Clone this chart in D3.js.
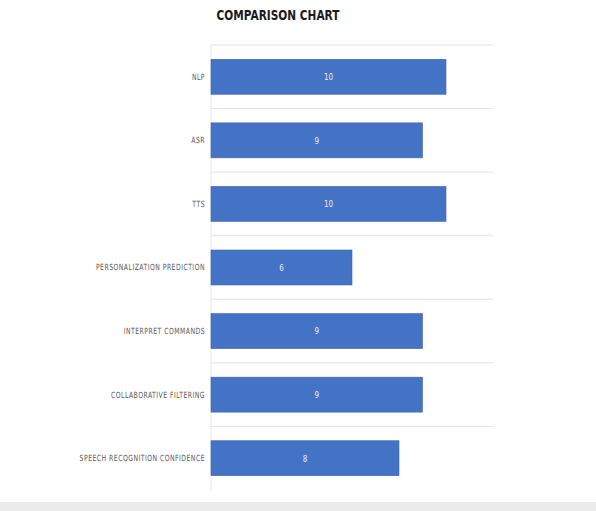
<!DOCTYPE html>
<html>
<head>
<meta charset="utf-8">
<script src="https://cdn.jsdelivr.net/npm/d3@7"></script>
<style>
  body { margin: 0; background: #fff; }
</style>
</head>
<body>
<svg id="chart"></svg>
<script>
const categories = ["NLP", "ASR", "TTS", "PERSONALIZATION PREDICTION", "INTERPRET COMMANDS", "COLLABORATIVE FILTERING", "SPEECH RECOGNITION CONFIDENCE"]
const values = [10, 9, 10, 6, 9, 9, 8]
const xDomain = [0, 12]

const width = 596
const height = 511
const mLeft = 211, mRight = 493, mTop = 45, mBottom = 490
const font = "'DejaVu Sans Condensed', 'DejaVu Sans', sans-serif"

var chart = d3.select("#chart")
    .attr("width", width)
    .attr("height", height)
    ;

// grey strip at the bottom of the screenshot
chart.append("rect")
    .attr("x", 0)
    .attr("y", 502)
    .attr("width", width)
    .attr("height", height - 502)
    .attr("fill", "#ececec");

const x = d3.scaleLinear()
    .domain(xDomain)
    .range([mLeft, mRight]);

const y = d3.scaleBand()
    .domain(categories)
    .range([mTop, mBottom])
    .paddingInner(0.45)
    .paddingOuter(0.225);

// separators between the categories
const step = y.step()
const seps = d3.range(categories.length).map(i => mTop + i * step)
chart.selectAll(".sep")
    .data(seps)
    .join("line")
    .attr("class", "sep")
    .attr("x1", mLeft)
    .attr("x2", mRight)
    .attr("y1", d => d)
    .attr("y2", d => d)
    .attr("stroke", "#e3e3e3")
    .attr("stroke-width", 1);

// vertical axis line
chart.append("line")
    .attr("x1", mLeft)
    .attr("x2", mLeft)
    .attr("y1", mTop)
    .attr("y2", mBottom)
    .attr("stroke", "#e6e6e6");

chart.selectAll(".bar")
    .data(values)
    .join("rect")
    .attr("class", "bar")
    .attr("x", x(0))
    .attr("y", (d, i) => y(categories[i]))
    .attr("width", d => x(d) - x(0))
    .attr("height", y.bandwidth())
    .attr("fill", "#4472c4")
    .attr("stroke", "#3d66b0")
    .attr("stroke-width", 0.6);

chart.selectAll(".val")
    .data(values)
    .join("text")
    .attr("class", "val")
    .attr("transform", (d, i) => "translate(" + (x(0) + x(d)) / 2 + "," + (y(categories[i]) + y.bandwidth() / 2) + ") scale(0.85,1)")
    .attr("dy", "0.35em")
    .style("font-family", font)
    .style("font-size", "9.5px")
    .style("fill", "#e8eefa")
    .style("text-anchor", "middle")
    .text(d => d);

// narrow, letter-spaced category labels
chart.selectAll(".cat")
    .data(categories)
    .join("text")
    .attr("class", "cat")
    .attr("transform", d => "translate(" + (mLeft - 6) + "," + (y(d) + y.bandwidth() / 2) + ") scale(0.8,1)")
    .attr("dy", "0.35em")
    .style("font-family", font)
    .style("font-size", "8.5px")
    .style("letter-spacing", "0.6px")
    .style("fill", "#5a5a5a")
    .style("text-anchor", "end")
    .text(d => d);

chart.append("text")
    .attr("transform", "translate(278,20) scale(0.84,1)")
    .style("font-family", font)
    .style("font-weight", "bold")
    .style("font-size", "14px")
    .style("fill", "#1a1a1a")
    .style("text-anchor", "middle")
    .text("COMPARISON CHART");
</script>
</body>
</html>
